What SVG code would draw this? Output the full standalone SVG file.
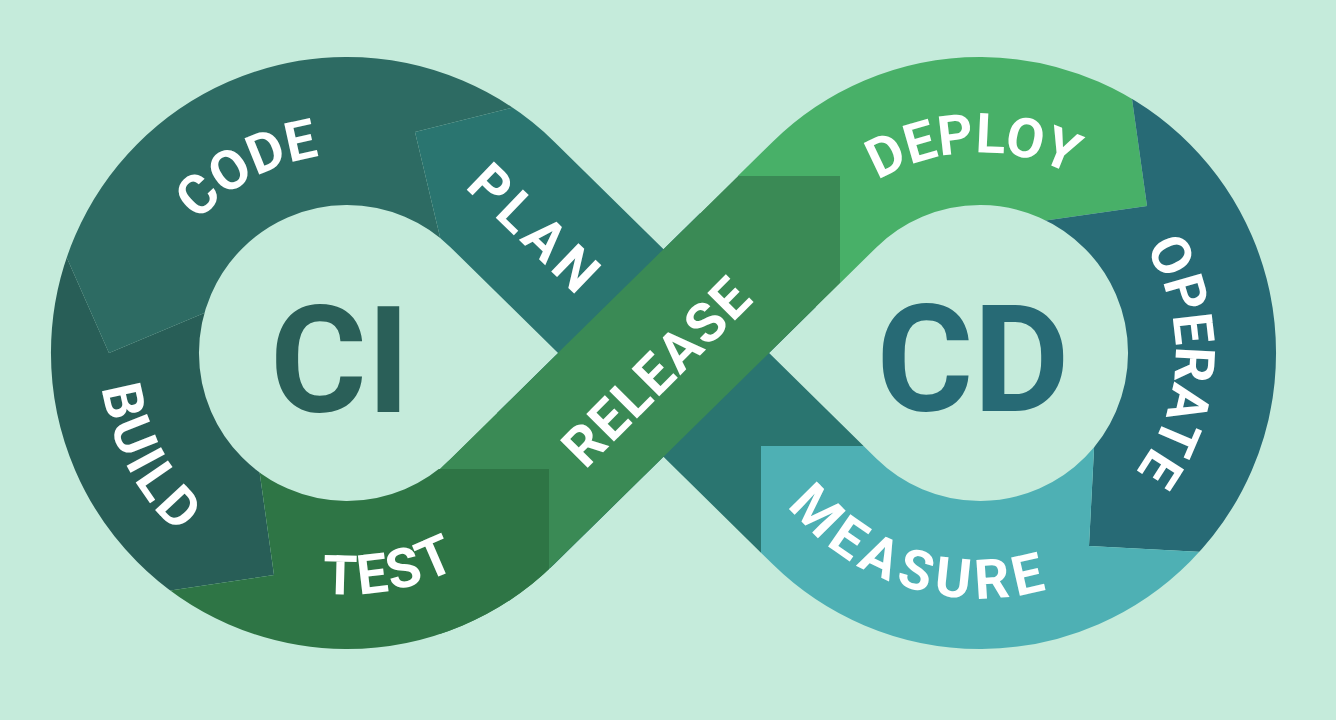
<svg xmlns="http://www.w3.org/2000/svg" width="1336" height="720" viewBox="0 0 1336 720">
  <style>
    .lbl { font-family: Roboto, "Liberation Sans", sans-serif; font-weight: 700; font-size: 55px; fill: #ffffff; }
    .big { font-family: Roboto, "Liberation Sans", sans-serif; font-weight: 700; font-size: 148px; text-anchor: middle; }
  </style>
  <defs>
    <mask id="band" maskUnits="userSpaceOnUse" x="0" y="0" width="1336" height="720">
      <path d="M502.6,511.3 L824.4,194.7 A222,222 0 1 1 824.4,511.3 L502.6,194.7 A222,222 0 1 0 502.6,511.3 Z" fill="none" stroke="#fff" stroke-width="148"/>
    </mask>
    <path id="pCode" d="M148.6,346.9 A198.5,198.5 0 0 1 451.4,184.2"/>
    <path id="pBuild" d="M137.6,221.1 A247.5,247.5 0 0 0 337.5,600.3"/>
    <path id="pTest" d="M164.7,511.4 A241.5,241.5 0 0 0 575.3,431.6"/>
    <path id="pDeploy" d="M803.1,258.6 A200.5,200.5 0 0 1 1150.2,247.1"/>
    <path id="pOperate" d="M1084.5,187.7 A195.5,195.5 0 0 1 1070.9,526.1"/>
    <path id="pMeasure" d="M740.6,407.4 A245.5,245.5 0 0 0 1146.8,533.1"/>
  </defs>
  <rect width="1336" height="720" fill="#c5ebdb"/>
  <g id="connectors"/>
  <g id="plan">
    <polygon mask="url(#band)" fill="#2a7570" points="415,132 559,96 700,96 700,230 880,350 900,446 761,446 761,600 560,600 445,258"/>
    <text class="lbl" text-anchor="middle" letter-spacing="5" transform="translate(535.8,229.2) rotate(44)" y="19.5">PLAN</text>
  </g>
  <g id="release">
    <polygon mask="url(#band)" fill="#3a8a55" points="738,176 840,176 840,283.4 440,676.4 440,468.8"/>
    <text class="lbl" text-anchor="middle" letter-spacing="1.75" transform="translate(656.7,371.3) rotate(-45)" y="19.5">RELEASE</text>
  </g>
  <g id="code">
    <polygon mask="url(#band)" fill="#2d6b63" points="0,0 559,0 559,96 415,132 445,258 240,298 109,353 47,213 0,213"/>
    <text class="lbl"><textPath href="#pCode" startOffset="50%" text-anchor="middle">CODE</textPath></text>
  </g>
  <g id="build">
    <polygon mask="url(#band)" fill="#285e57" points="0,213 47,213 109,353 240,298 253,425 274,575 120,598 0,598"/>
    <text class="lbl" letter-spacing="3.5"><textPath href="#pBuild" startOffset="50%" text-anchor="middle">BUILD</textPath></text>
  </g>
  <g id="test">
    <polygon mask="url(#band)" fill="#2e7545" points="253,425 274,575 120,598 120,720 549,720 549,469 400,469"/>
    <text class="lbl" letter-spacing="2"><textPath href="#pTest" startOffset="50%" text-anchor="middle">TEST</textPath></text>
  </g>
  <g id="deploy">
    <polygon mask="url(#band)" fill="#48b068" points="700,0 1127,0 1127,60 1132,99 1147,206 1000,227 840,283.4 840,176 700,176"/>
    <text class="lbl"><textPath href="#pDeploy" startOffset="50%" text-anchor="middle">DEPLOY</textPath></text>
  </g>
  <g id="operate">
    <polygon mask="url(#band)" fill="#276a75" points="1127,0 1336,0 1336,554 1240,554 1089,546 1095.5,420 1000,227 1147,206 1132,99 1127,60"/>
    <text class="lbl"><textPath href="#pOperate" startOffset="50%" text-anchor="middle">OPERATE</textPath></text>
  </g>
  <g id="measure">
    <polygon mask="url(#band)" fill="#4eb0b4" points="761,446 900,446 1095.5,420 1089,546 1240,554 1240,720 761,720"/>
    <text class="lbl" letter-spacing="6"><textPath href="#pMeasure" startOffset="50%" text-anchor="middle">MEASURE</textPath></text>
  </g>
  <g id="ci">
    <text class="big" x="340" y="412" fill="#2a5f58">CI</text>
  </g>
  <g id="cd">
    <text class="big" x="973" y="411" fill="#276a75">CD</text>
  </g>
</svg>
